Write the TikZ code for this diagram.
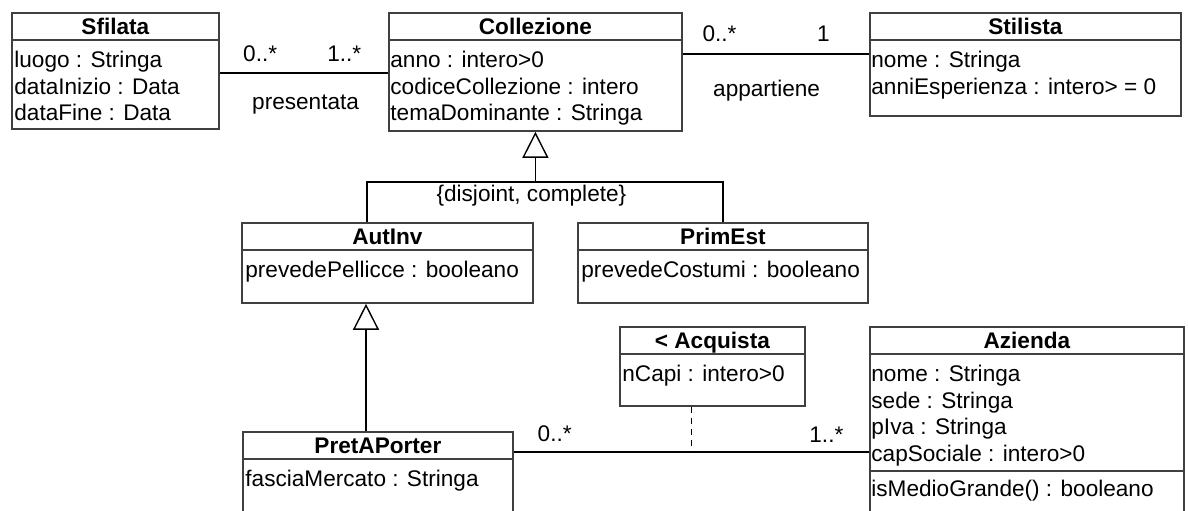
\documentclass[tikz,border=0pt]{standalone}
\usepackage{fontspec}
\setmainfont{Liberation Sans}
\usetikzlibrary{positioning,arrows.meta,calc}
\begin{document}
\begin{tikzpicture}[x=0.5pt,y=-0.5pt,
    font=\fontsize{11.3pt}{13.25pt}\selectfont,
    classbox/.style={draw=black!75,line width=0.9pt,anchor=north west,inner sep=0pt},
    classtitle/.style={draw=black!75,line width=0.9pt,anchor=north,minimum height=13.5pt,
      inner sep=0pt,text height=8.1pt,text depth=0pt,font=\fontsize{11.3pt}{13.25pt}\selectfont\bfseries},
    attrs/.style={anchor=north west,align=left,inner sep=0pt},
    mult/.style={inner sep=0pt,text height=8.1pt,text depth=0pt},
    assoc/.style={line width=0.7pt},
    gen/.style={assoc,-{Triangle[open,length=13pt,width=13pt]}}]
      \useasboundingbox (0,0) rectangle (1188,510);
      \node[classbox,minimum width=103.5pt,minimum height=58pt] (Sfilata) at (11,12) {};
      \node[classtitle,minimum width=103.5pt] (SfilataT) at (Sfilata.north) {Sfilata};
      \node[attrs,below right=5pt and 1.5pt of SfilataT.south west] (SfilataA)
        {luogo : Stringa\\dataInizio : Data\\dataFine : Data};
      \node[classbox,minimum width=146.5pt,minimum height=59pt] (Collezione) at (388,12) {};
      \node[classtitle,minimum width=146.5pt] (CollezioneT) at (Collezione.north) {Collezione};
      \node[attrs,below right=5pt and 1pt of CollezioneT.south west] (CollezioneA)
        {anno : intero>0\\codiceCollezione : intero\\temaDominante : Stringa};
      \node[classbox,minimum width=155.5pt,minimum height=51.5pt] (Stilista) at (869,12) {};
      \node[classtitle,minimum width=155.5pt] (StilistaT) at (Stilista.north) {Stilista};
      \node[attrs,below right=5pt and 1pt of StilistaT.south west] (StilistaA)
        {nome : Stringa\\anniEsperienza : intero> = 0};
      \node[classbox,minimum width=145.5pt,minimum height=40pt] (AutInv) at (241,222) {};
      \node[classtitle,minimum width=145.5pt] (AutInvT) at (AutInv.north) {AutInv};
      \node[attrs,below right=5pt and 2pt of AutInvT.south west] (AutInvA)
        {prevedePellicce : booleano};
      \node[classbox,minimum width=145pt,minimum height=40pt] (PrimEst) at (577,222) {};
      \node[classtitle,minimum width=145pt] (PrimEstT) at (PrimEst.north) {PrimEst};
      \node[attrs,below right=5pt and 2pt of PrimEstT.south west] (PrimEstA)
        {prevedeCostumi : booleano};
      \node[classbox,minimum width=92.5pt,minimum height=39.5pt] (Acquista) at (619,326) {};
      \node[classtitle,minimum width=92.5pt] (AcquistaT) at (Acquista.north) {< Acquista};
      \node[attrs,below right=5pt and 1.5pt of AcquistaT.south west] (AcquistaA)
        {nCapi : intero>0};
      \node[classbox,minimum width=157pt,minimum height=95pt] (Azienda) at (869,326) {};
      \node[classtitle,minimum width=157pt] (AziendaT) at (Azienda.north) {Azienda};
      \node[attrs,below right=5pt and 1pt of AziendaT.south west] (AziendaA)
        {nome : Stringa\\sede : Stringa\\pIva : Stringa\\capSociale : intero>0};
      \coordinate (AziendaS) at ([yshift=-72.5pt]Azienda.north west);
      \draw[draw=black!75,line width=0.9pt] (AziendaS) -- (AziendaS -| Azienda.east);
      \node[attrs,below right=4.5pt and 1pt of AziendaS] (AziendaO) {isMedioGrande() : booleano};
      \node[classbox,minimum width=135pt,minimum height=43pt] (PretAPorter) at (242,431) {};
      \node[classtitle,minimum width=135pt] (PretAPorterT) at (PretAPorter.north) {PretAPorter};
      \node[attrs,below right=5pt and 1.5pt of PretAPorterT.south west] (PretAPorterA)
        {fasciaMercato : Stringa};
      \draw[assoc] ([yshift=-1pt]Sfilata.east)
        -- node[mult,pos=.24,yshift=10pt] (m1) {0..*}
           node[mult,pos=.74,yshift=10pt] (m2) {1..*}
           node[mult,pos=.51,yshift=-14pt] (r1) {presentata}
        ([yshift=-1pt]Sfilata.east -| Collezione.west);
      \draw[assoc] ([yshift=5.25pt]Stilista.west -| Collezione.east)
        -- node[mult,pos=.197,yshift=10.5pt] (m3) {0..*}
           node[mult,pos=.755,yshift=10.5pt] (m4) {1}
           node[mult,pos=.45,yshift=-17pt] (r2) {appartiene}
        ([yshift=5.25pt]Stilista.west);
      \draw[assoc] ($(AutInv.north west)+(126,0)$) |- ($(Collezione.south)+(0,50)$) -| (PrimEst.north);
      \draw[gen] ($(Collezione.south)+(0,50)$) -- (Collezione.south);
      \node[mult] (gs) at ($(Collezione.south)+(-4,62)$) {\{disjoint, complete\}};
      \draw[gen] ($(PretAPorter.north west)+(124,0)$) coordinate (g2) -- (g2 |- AutInv.south);
      \draw[assoc] ([yshift=11.5pt]PretAPorter.east)
        -- node[mult,pos=.115,yshift=9.5pt] (m5) {0..*}
           coordinate[pos=.5] (acq)
           node[mult,pos=.88,yshift=9pt] (m6) {1..*}
        ([yshift=11.5pt]PretAPorter.east -| Azienda.west);
      \draw[assoc,dash pattern=on 3pt off 2.5pt] (Acquista.south -| acq) -- (acq);
    \end{tikzpicture}
\end{document}
